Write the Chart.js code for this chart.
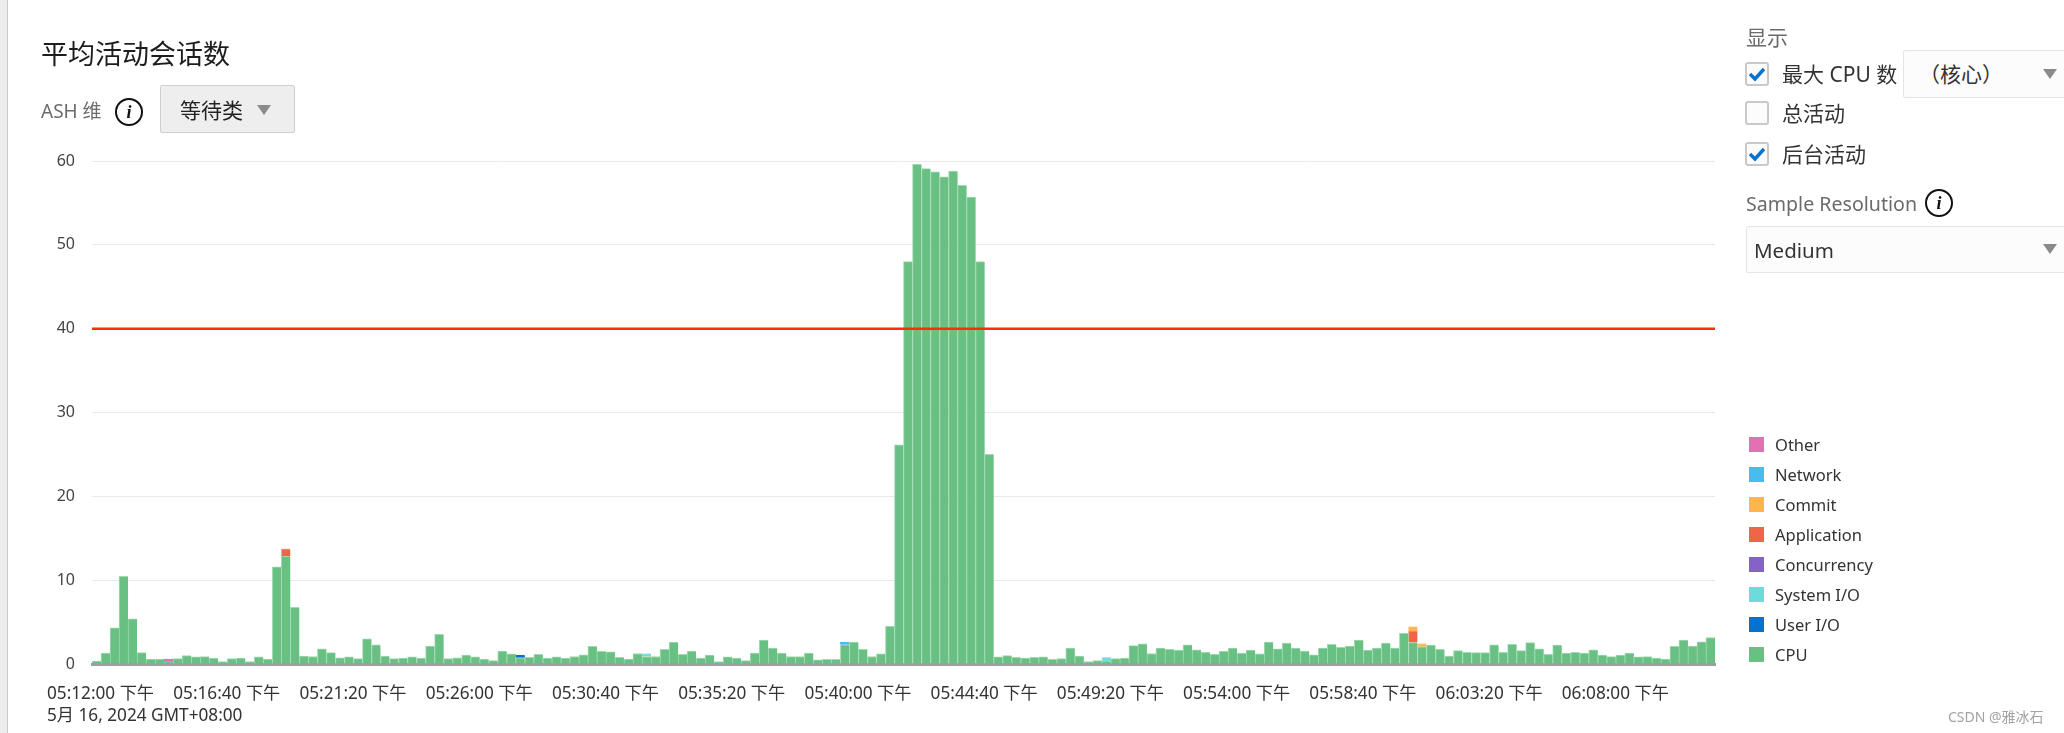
<!DOCTYPE html>
<html>
<head>
<meta charset="utf-8">
<script src="https://cdn.jsdelivr.net/npm/chart.js@4"></script>
<style>
    html, body { margin: 0; padding: 0; background: #fff; }
    body { width: 2064px; height: 733px; overflow: hidden; position: relative;
           font-family: "Noto Sans", "Noto Sans CJK SC", sans-serif; color: #333; }
    canvas { position: absolute; left: 0; top: 0; }
    .abs { position: absolute; white-space: nowrap; line-height: 1; }
    .muted { color: #6b6b6b; }
    .edge { position: absolute; left: 0; top: 0; width: 7px; height: 733px; background: #ececec; border-right: 1px solid #c9c9c9; }
    .btn { position: absolute; left: 160px; top: 85px; width: 133px; height: 46px; background: #eee; border: 1px solid #cfcfcf; border-radius: 2px; }
    .select { position: absolute; background: #fcfcfc; border: 1px solid #e5e5e5; border-radius: 2px; }
    .tri { position: absolute; width: 0; height: 0; border-left: 7px solid transparent; border-right: 7px solid transparent; border-top: 10px solid #8a8a8a; }
    .check { position: absolute; left: 1745px; width: 20px; height: 20px; background: #fcfcfc; border: 2px solid #c9c9c9; border-radius: 3px; }
    .info { position: absolute; width: 24px; height: 24px; border: 2px solid #111; border-radius: 50%; background: #fff;
            font: italic bold 18px/24px "Liberation Serif", serif; text-align: center; color: #111; }
    .swatch { position: absolute; left: 1749px; width: 15px; height: 15px; }
    .legend-text { position: absolute; left: 1775px; font-size: 16.5px; line-height: 1; color: #333; white-space: nowrap; }
</style>
</head>
<body>
<div class="edge"></div>
<canvas id="ash-chart" width="2064" height="733"></canvas>

<div class="abs" style="left:41px;top:40px;font-size:27px;color:#1d1d1d;">平均活动会话数</div>
<div class="abs muted" style="left:41px;top:102px;font-size:19px;">ASH 维</div>
<div class="info" style="left:115px;top:98px;">i</div>
<div class="btn"></div>
<div class="abs" style="left:180px;top:100px;font-size:21px;color:#222;">等待类</div>
<div class="tri" style="left:257px;top:105px;"></div>

<div class="abs muted" style="left:1746px;top:27px;font-size:21px;">显示</div>
<div class="check" style="top:62px;"><svg width="20" height="20"><path d="M3 10 L8 15 L17 5" fill="none" stroke="#0572ce" stroke-width="3.4"/></svg></div>
<div class="abs" style="left:1782px;top:64px;font-size:21px;">最大 CPU 数</div>
<div class="select" style="left:1903px;top:50px;width:170px;height:46px;"></div>
<div class="abs" style="left:1919px;top:64px;font-size:21px;">（核心）</div>
<div class="tri" style="left:2043px;top:69px;"></div>
<div class="check" style="top:101px;"></div>
<div class="abs" style="left:1782px;top:103px;font-size:21px;">总活动</div>
<div class="check" style="top:142px;"><svg width="20" height="20"><path d="M3 10 L8 15 L17 5" fill="none" stroke="#0572ce" stroke-width="3.4"/></svg></div>
<div class="abs" style="left:1782px;top:144px;font-size:21px;">后台活动</div>
<div class="abs muted" style="left:1746px;top:194px;font-size:19.6px;">Sample Resolution</div>
<div class="info" style="left:1925px;top:189px;">i</div>
<div class="select" style="left:1746px;top:226px;width:330px;height:45px;"></div>
<div class="abs" style="left:1754px;top:240px;font-size:20.5px;">Medium</div>
<div class="tri" style="left:2043px;top:244px;"></div>

<div id="legend"></div>
<div class="abs" style="left:47px;top:706px;font-size:17.2px;">5月 16, 2024 GMT+08:00</div>
<div class="abs" style="left:1948px;top:710px;font-size:14px;color:#a3a3a3;">CSDN @雅冰石</div>

<script>
// x axis: one sample every 20 seconds, one label every 14 samples
const tickLabels = ['05:12:00 下午', '05:16:40 下午', '05:21:20 下午', '05:26:00 下午', '05:30:40 下午',
    '05:35:20 下午', '05:40:00 下午', '05:44:40 下午', '05:49:20 下午', '05:54:00 下午',
    '05:58:40 下午', '06:03:20 下午', '06:08:00 下午'];

const sampleCount = 180;
const yTicks = [0, 10, 20, 30, 40, 50, 60];
const maxCpuCores = 40;

// CPU values, ten samples per row
const cpuValues = [
    0.35, 1.3, 4.3, 10.45, 5.4, 1.35, 0.6, 0.6, 0.25, 0.65,
    1.0, 0.85, 0.9, 0.7, 0.3, 0.65, 0.7, 0.3, 0.85, 0.6,
    11.6, 12.85, 6.75, 0.95, 0.9, 1.8, 1.35, 0.75, 0.85, 0.65,
    3.0, 2.3, 0.95, 0.65, 0.7, 0.85, 0.7, 2.15, 3.55, 0.65,
    0.75, 1.05, 0.85, 0.6, 0.4, 1.55, 1.2, 0.75, 0.8, 1.15,
    0.7, 0.85, 0.7, 0.9, 1.1, 2.1, 1.5, 1.45, 0.8, 0.6,
    1.25, 0.9, 0.9, 1.75, 2.6, 1.15, 1.55, 0.7, 1.05, 0.3,
    0.85, 0.7, 0.4, 1.3, 2.85, 1.9, 1.3, 0.9, 0.9, 1.3,
    0.5, 0.55, 0.55, 2.3, 2.6, 1.75, 0.9, 1.2, 4.5, 26.15,
    48, 59.6, 59.1, 58.7, 58.1, 58.8, 57.1, 55.7, 48, 25,
    0.85, 1.0, 0.8, 0.7, 0.8, 0.85, 0.55, 0.65, 1.9, 0.95,
    0.3, 0.4, 0.35, 0.65, 0.7, 2.2, 2.4, 1.25, 1.9, 1.75,
    1.65, 2.3, 1.7, 1.4, 1.15, 1.5, 1.9, 1.3, 1.65, 1.2,
    2.6, 1.8, 2.5, 1.9, 1.55, 1.1, 1.9, 2.35, 2.0, 2.15,
    2.85, 1.65, 1.9, 2.5, 1.9, 3.65, 2.55, 2.05, 2.25, 1.75,
    0.95, 1.6, 1.4, 1.35, 1.35, 2.3, 1.4, 2.35, 1.6, 2.55,
    1.8, 1.15, 2.25, 1.3, 1.4, 1.3, 1.7, 1.05, 0.9, 1.05,
    1.3, 0.85, 0.9, 0.7, 0.6, 2.1, 2.85, 2.15, 2.65, 3.15
];

// the other wait classes only show up in a few samples
const otherTimes = ['05:14:40 下午'];
const otherValues = [0.35];
const networkTimes = ['05:39:40 下午'];
const networkValues = [0.3];
const commitTimes = ['06:00:40 下午', '06:01:00 下午'];
const commitValues = [0.5, 0.4];
const applicationTimes = ['05:19:00 下午', '06:00:40 下午'];
const applicationValues = [0.9, 1.4];
const concurrencyTimes = [];
const concurrencyValues = [];
const systemIoTimes = ['05:32:20 下午', '05:49:20 下午'];
const systemIoValues = [0.35, 0.45];
const userIoTimes = ['05:27:40 下午'];
const userIoValues = [0.3];

// one category per sample
const categories = [];
for (let i = 0; i < sampleCount; i++) {
    const secs = 5 * 3600 + 12 * 60 + i * 20;
    const parts = [Math.floor(secs / 3600), Math.floor(secs / 60) % 60, secs % 60];
    categories.push(parts.map(p => String(p).padStart(2, '0')).join(':') + ' 下午');
}

function sparse(times, values) {
    return times.map((t, i) => ({ x: t, y: values[i] }));
}

function barSet(label, data, color, edge) {
    return {
        label: label,
        data: data,
        backgroundColor: color,
        borderColor: edge,
        borderWidth: { top: 1, left: 1, right: 0, bottom: 0 },
        barPercentage: 1,
        categoryPercentage: 1
    };
}

// stacked bottom to top, CPU first
const datasets = [
    barSet('CPU', cpuValues, '#68c182', '#a1d9b2'),
    barSet('User I/O', sparse(userIoTimes, userIoValues), '#0572ce', '#0572ce'),
    barSet('System I/O', sparse(systemIoTimes, systemIoValues), '#6ddbdb', '#a5e9e9'),
    barSet('Concurrency', sparse(concurrencyTimes, concurrencyValues), '#8561c8', '#8561c8'),
    barSet('Application', sparse(applicationTimes, applicationValues), '#ed6647', '#f5a594'),
    barSet('Commit', sparse(commitTimes, commitValues), '#ffb54d', '#ffd294'),
    barSet('Network', sparse(networkTimes, networkValues), '#47bdef', '#47bdef'),
    barSet('Other', sparse(otherTimes, otherValues), '#e371b2', '#e371b2')
];

// red max CPU line, over the bars
const maxCpuLine = {
    id: 'maxCpuLine',
    afterDatasetsDraw(chart) {
        const ctx = chart.ctx;
        const y = chart.scales.y.getPixelForValue(maxCpuCores);
        ctx.save();
        ctx.strokeStyle = '#ff2d00';
        ctx.lineWidth = 2.5;
        ctx.beginPath();
        ctx.moveTo(chart.chartArea.left, y);
        ctx.lineTo(chart.chartArea.right, y);
        ctx.stroke();
        ctx.restore();
    }
};

new Chart(document.getElementById('ash-chart').getContext('2d'), {
    type: 'bar',
    data: { labels: categories, datasets: datasets },
    plugins: [maxCpuLine],
    options: {
        responsive: false,
        animation: false,
        layout: { padding: { top: 161, right: 349, left: 0, bottom: 0 } },
        plugins: { legend: { display: false }, tooltip: { enabled: false } },
        scales: {
            x: {
                stacked: true,
                afterFit: scale => { scale.height = 69; },
                grid: { display: false },
                border: { color: '#9e9e9e', width: 3 },
                ticks: {
                    autoSkip: false,
                    maxRotation: 0,
                    padding: 12,
                    labelOffset: 4,
                    color: '#333',
                    font: { family: '"Noto Sans", "Noto Sans CJK SC"', size: 17.2 },
                    callback(value) {
                        const label = this.getLabelForValue(value);
                        return tickLabels.includes(label) ? label : '';
                    }
                }
            },
            y: {
                stacked: true,
                min: yTicks[0],
                max: yTicks[yTicks.length - 1],
                afterFit: scale => { scale.width = 92; },
                afterBuildTicks: scale => { scale.ticks = yTicks.map(v => ({ value: v })); },
                grid: { color: '#e6e9ed', drawTicks: false },
                border: { display: false },
                ticks: {
                    padding: 17,
                    color: '#444',
                    font: { family: '"Noto Sans"', size: 16 }
                }
            }
        }
    }
});

// legend on the right, same order as the reference (top to bottom)
const legendEl = document.getElementById('legend');
datasets.slice().reverse().forEach((ds, i) => {
    const top = 437 + i * 30;
    legendEl.insertAdjacentHTML('beforeend',
        '<div class="swatch" style="top:' + top + 'px;background:' + ds.backgroundColor + '"></div>' +
        '<div class="legend-text" style="top:' + top + 'px">' + ds.label + '</div>');
});
</script>
</body>
</html>
